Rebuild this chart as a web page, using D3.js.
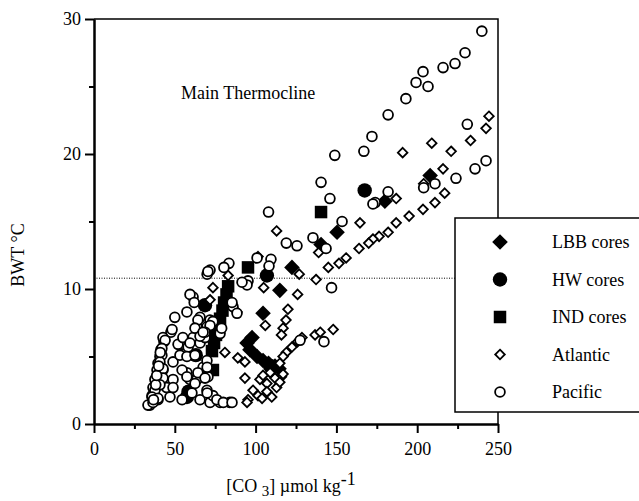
<!DOCTYPE html>
<html lang="en">
<head>
<meta charset="UTF-8">
<title>BWT vs CO3</title>
<script src="https://cdn.jsdelivr.net/npm/d3@7"></script>
<style>
    html, body { margin: 0; padding: 0; background: #fff; }
    svg { display: block; font-family: "Liberation Serif", "Times New Roman", serif; }
</style>
</head>
<body>
<div id="vis"></div>
<script>
// [CO3] (umol/kg), BWT (degC)
var lbbCores = [[208,18.4],[180,16.5],[150.4,14.2],[140.5,13.3],[122.5,11.6],[115,9.9],[104.6,8.2],
    [97.8,6.4],[94.7,6.0],[96.5,5.5],[100.9,5.0],[104.6,4.7],[108,4.5],[112,4.3],[114.5,4.1]];
var hwCores = [[167.5,17.3],[107,11.0],[68.7,8.8],[63,5.1],[57.5,2.0],[58.5,2.4],[109,4.3]];
var indCores = [[140.5,15.7],[95.3,11.6],[83,10.2],[82,9.6],[80.5,9.0],[79.5,8.4],[78,7.8],[76.8,7.2],
    [75.5,6.6],[74.3,6.0],[73,5.4],[73.6,4.0]];
var atlantic = [[244.4,22.8],[242.6,21.9],[233,21.0],[209,20.8],[221,20.2],[191,20.1],[216,18.9],[204,17.8],
    [187,16.7],[217,17.1],[211,16.4],[203.6,15.9],[195,15.4],[187,14.9],[182,14.2],[176.4,13.9],[172.6,13.7],
    [170,13.4],[164.6,14.9],[164,13.0],[156,12.3],[151.6,11.9],[145,11.6],[137.4,10.7],[139,12.7],[113,14.3],
    [101.5,12.4],[83,11.0],[127,11.1],[105,10.1],[73.6,10.1],[126,9.6],[120,8.5],[118.8,7.7],[117,7.1],
    [116,6.6],[128.7,6.4],[126,6.1],[122.5,5.7],[119,5.3],[117,5.0],[115,4.5],[116,3.5],[136.8,6.6],[140,6.8],
    [148,7.0],[106,7.3],[81,5.3],[89,4.9],[93.4,4.6],[93.4,3.4],[102.7,3.3],[107,3.0],[98.4,2.5],[101.5,2.1],
    [107,2.4],[113,2.7],[112,3.4],[95.3,1.8],[104,1.9],[110,2.0],[115,3.1],[117,3.7],[109,3.8],[104.6,3.6],
    [71.8,9.2],[88.5,8.3],[94.7,1.6]];
var pacific = [[240,29.1],[229.6,27.5],[223.4,26.7],[216,26.4],[203.6,26.1],[206.7,25.0],[199.3,25.3],[193,24.1],
    [182,22.9],[172,21.3],[167,20.2],[149,19.9],[231,22.2],[242.6,19.5],[235.8,18.9],[224,18.2],[211,17.8],
    [204,17.5],[182,17.2],[174,16.4],[172.6,16.3],[140.5,17.9],[146,16.7],[153.5,15.0],[108,15.7],[135.5,13.8],
    [119,13.4],[125.6,13.2],[143.6,13.0],[109.5,12.2],[108.3,11.7],[100.9,12.3],[83.5,11.9],[80.4,11.6],
    [71.8,11.4],[70,11.1],[147,10.1],[95.3,10.6],[142.3,6.1],[127.5,6.2],
    [50,7.9],[47.6,6.8],[43.3,6.1],[41.4,5.5],[40.8,5.0],[39.6,4.5],[39,4.0],[37.7,3.3],[36.5,2.7],[35.9,2.1],
    [34.6,1.4],[42.7,4.0],[48.9,4.6],[53.2,5.1],[54.5,5.9],[57.5,8.3],[61.3,9.4],[65.6,7.9],[63.7,7.2],
    [61.3,6.4],[58.2,5.7],[57.5,5.0],[57.5,3.8],[59.4,3.3],[63.7,3.3],[65.6,3.8],[67.5,4.2],[69.9,4.7],
    [65.6,6.0],[68.7,6.4],[69.9,7.2],[71.8,7.7],[65.6,1.8],[71.8,1.6],[78,1.6],[84,1.6],[69.9,2.5],[73.6,2.1],
    [78,6.7],[86,8.7],[85.4,9.0],[88.5,8.2],[94.7,10.3],[91.6,10.5],[54.5,1.8],[64.3,3.8],[48.9,3.3],[45,2.7],
    [47,2.0],[39.6,1.8],[59.4,9.6],[70.5,11.3],[62,9.0],[48.3,7.0],[42.7,6.4],[64.3,7.7],[62.5,7.1],
    [73.6,7.6],[71.8,7.3],[44,6.2],[42,5.6],[42,5.1],[40.8,4.6],[42.7,4.1],[42.7,3.4],[40.8,2.9],[37.7,2.5],
    [35.9,2.0],[33.4,1.4],[36.5,1.6],[39.6,1.9],[52,5.9],[55,6.4],[48.9,2.7],[54.5,4.0],[57.5,3.5],[62.5,3.0],
    [60.6,2.3],[70.5,3.5],[62.5,5.1],[59.4,6.0],[65.6,6.5],[68.7,6.8],[67.5,6.8],[70,4.2],[68.7,3.4],[70,2.3],
    [76,1.8],[80,1.6],[85.4,1.6],[79,7.1],[36.8,1.8],[38.2,2.9],[38.8,3.6],[40,4.3],[41,5.3]];

var xMajor = [0, 50, 100, 150, 200, 250];
var xMinor = [25, 75, 125, 175, 225];
var yMajor = [0, 10, 20, 30];
var yMinor = [5, 15, 25];
var thermoclineLevel = 10.8;
var legendNames = ["LBB cores", "HW cores", "IND cores", "Atlantic", "Pacific"];

var width = 639, height = 501;
var margin = {top: 19, left: 94, right: 141, bottom: 77};

var svg = d3.select('#vis')
    .append('svg')
    .attr('width', width)
    .attr('height', height);

var x = d3.scaleLinear().domain([0, 250]).range([margin.left, width - margin.right]);
var y = d3.scaleLinear().domain([0, 30]).range([height - margin.bottom, margin.top]);

// shapes
function diamond(h) {
    return 'M0,' + (-h) + 'L' + h + ',0L0,' + h + 'L' + (-h) + ',0Z';
}
function square(s) {
    var h = s / 2;
    return 'M' + (-h) + ',' + (-h) + 'h' + s + 'v' + s + 'h' + (-s) + 'Z';
}
var styles = [
    {kind: 'path', d: diamond(7.8), fill: '#000', stroke: 'none', sw: 0},
    {kind: 'circle', r: 7.2, fill: '#000', stroke: 'none', sw: 0},
    {kind: 'path', d: square(12.5), fill: '#000', stroke: 'none', sw: 0},
    {kind: 'path', d: diamond(4.8), fill: '#fff', stroke: '#000', sw: 1.8},
    {kind: 'circle', r: 4.9, fill: '#fff', stroke: '#000', sw: 1.8}
];

// frame: top and right lines
svg.append('path')
    .attr('d', 'M' + x(0) + ',' + y(30) + 'H' + x(250) + 'V' + y(0))
    .attr('fill', 'none')
    .attr('stroke', '#000')
    .attr('stroke-width', 1.5);

// dotted thermocline line
svg.append('line')
    .attr('x1', x(0)).attr('x2', 455)
    .attr('y1', y(thermoclineLevel)).attr('y2', y(thermoclineLevel))
    .attr('stroke', '#000')
    .attr('stroke-width', 1)
    .attr('stroke-dasharray', '1,1.5');

function drawSeries(data, st) {
    var g = svg.append('g');
    var sel = g.selectAll('.pt').data(data).enter();
    if (st.kind === 'circle') {
        sel.append('circle')
            .attr('cx', function(d) { return x(d[0]); })
            .attr('cy', function(d) { return y(d[1]); })
            .attr('r', st.r)
            .attr('fill', st.fill)
            .attr('stroke', st.stroke)
            .attr('stroke-width', st.sw);
    } else {
        sel.append('path')
            .attr('d', st.d)
            .attr('transform', function(d) { return 'translate(' + x(d[0]) + ',' + y(d[1]) + ')'; })
            .attr('fill', st.fill)
            .attr('stroke', st.stroke)
            .attr('stroke-width', st.sw);
    }
}

drawSeries(lbbCores, styles[0]);
drawSeries(hwCores, styles[1]);
drawSeries(indCores, styles[2]);
drawSeries(atlantic, styles[3]);
drawSeries(pacific, styles[4]);

// axes
function styleAxis(g) {
    g.selectAll('path, line').attr('stroke', '#000').attr('stroke-width', 2);
    g.selectAll('text').attr('font-size', 18).attr('fill', '#000')
        .attr('font-family', '"Liberation Serif", "Times New Roman", serif');
}

svg.append('g')
    .attr('transform', 'translate(0,' + y(0) + ')')
    .call(d3.axisBottom(x).tickValues(xMinor).tickSize(5).tickSizeOuter(0).tickFormat(''))
    .call(styleAxis);
svg.append('g')
    .attr('transform', 'translate(0,' + y(0) + ')')
    .call(d3.axisBottom(x).tickValues(xMajor).tickSize(9).tickSizeOuter(0).tickPadding(9))
    .call(styleAxis);

svg.append('g')
    .attr('transform', 'translate(' + x(0) + ',0)')
    .call(d3.axisLeft(y).tickValues(yMinor).tickSize(5).tickSizeOuter(0).tickFormat(''))
    .call(styleAxis);
svg.append('g')
    .attr('transform', 'translate(' + x(0) + ',0)')
    .call(d3.axisLeft(y).tickValues(yMajor).tickSize(9).tickSizeOuter(0).tickPadding(4))
    .call(styleAxis);

// annotation
svg.append('text')
    .attr('x', 181).attr('y', 99)
    .attr('font-size', 18)
    .text('Main Thermocline');

// axis titles
svg.append('text')
    .attr('transform', 'translate(24,255) rotate(-90)')
    .attr('text-anchor', 'middle')
    .attr('font-size', 18)
    .text('BWT \u00B0C');

var xt = svg.append('text')
    .attr('x', 291).attr('y', 492)
    .attr('text-anchor', 'middle')
    .attr('font-size', 18);
xt.append('tspan').text('[CO ');
xt.append('tspan').attr('dy', 4).attr('font-size', 15).text('3');
xt.append('tspan').attr('dy', -4).text('] \u00B5mol kg');
xt.append('tspan').attr('dy', -7).attr('font-size', 18).text('-1');

// legend
var leg = svg.append('g');
leg.append('rect')
    .attr('x', 455).attr('y', 218)
    .attr('width', 200).attr('height', 194)
    .attr('fill', '#fff')
    .attr('stroke', '#000')
    .attr('stroke-width', 1.5);

var rows = leg.selectAll('.row').data(legendNames).enter()
    .append('g')
    .attr('transform', function(d, i) { return 'translate(500,' + (242 + i * 37.5) + ')'; });

rows.each(function(d, i) {
    var st = styles[i];
    var g = d3.select(this);
    if (st.kind === 'circle') {
        g.append('circle').attr('r', st.r).attr('fill', st.fill)
            .attr('stroke', st.stroke).attr('stroke-width', st.sw);
    } else {
        g.append('path').attr('d', st.d).attr('fill', st.fill)
            .attr('stroke', st.stroke).attr('stroke-width', st.sw);
    }
});

rows.append('text')
    .attr('x', 52).attr('y', 6)
    .attr('font-size', 18)
    .text(function(d) { return d; });
</script>
</body>
</html>
